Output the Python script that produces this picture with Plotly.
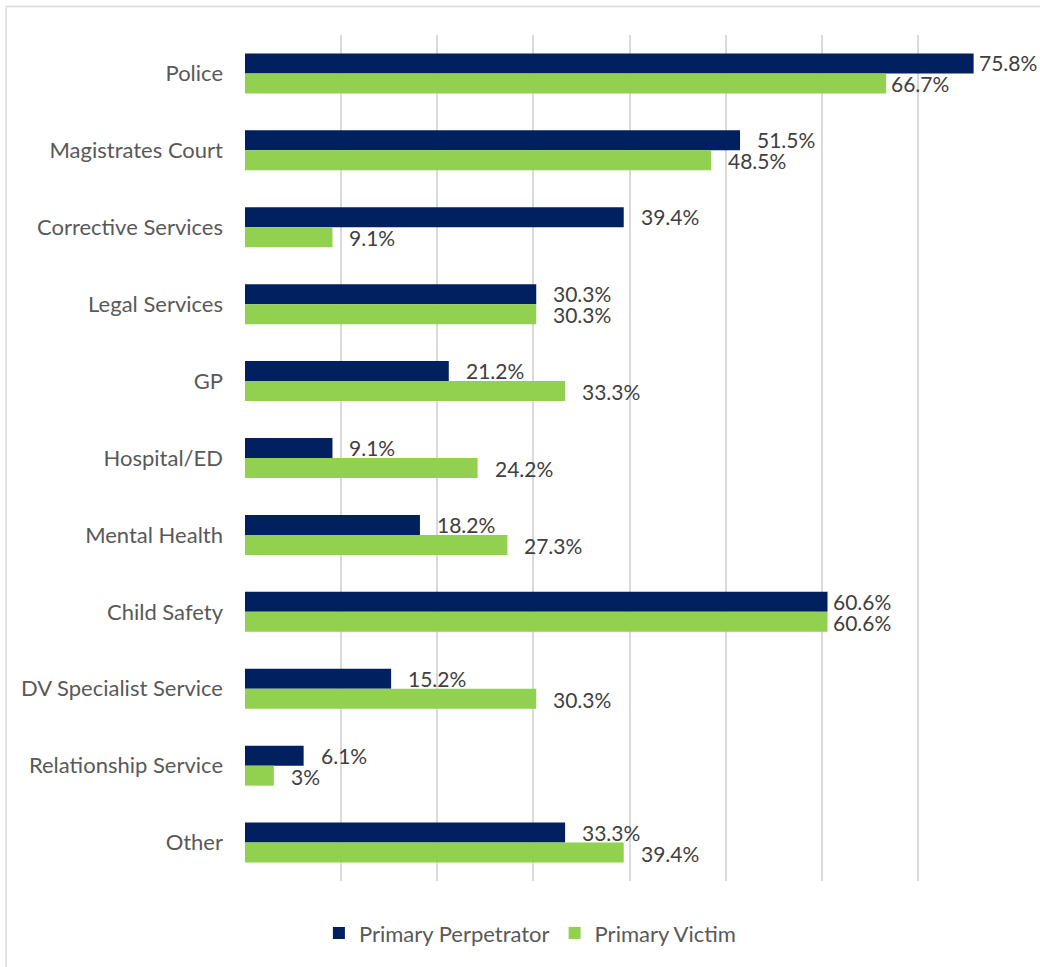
import plotly.graph_objects as go

categories = [
    "Police", "Magistrates Court", "Corrective Services", "Legal Services", "GP",
    "Hospital/ED", "Mental Health", "Child Safety", "DV Specialist Service",
    "Relationship Service", "Other",
]
perpetrator = [75.8, 51.5, 39.4, 30.3, 21.2, 9.1, 18.2, 60.6, 15.2, 6.1, 33.3]
victim = [66.7, 48.5, 9.1, 30.3, 33.3, 24.2, 27.3, 60.6, 30.3, 3.0, 39.4]
series_names = ["Primary Perpetrator", "Primary Victim"]
x_ticks = [0, 10, 20, 30, 40, 50, 60, 70, 80]

NAVY = "#002060"
GREEN = "#92D050"
FONT = "Lato"


def fmt(v):
    return f"{v:g}%"


fig = go.Figure()
for name, vals, color in [(series_names[0], perpetrator, NAVY), (series_names[1], victim, GREEN)]:
    fig.add_trace(go.Bar(
        y=categories, x=vals, name=name, orientation="h",
        marker=dict(color=color, line=dict(width=0)),
        hoverinfo="x+y+name",
    ))

# value labels placed just beyond each bar end
annotations = []
for vals, yshift in [(perpetrator, 10.5), (victim, -10.5)]:
    for cat, v in zip(categories, vals):
        annotations.append(dict(
            x=v, y=cat, xref="x", yref="y", text=fmt(v), showarrow=False,
            xanchor="left", yanchor="middle", xshift=3 if v >= 60 else 15, yshift=yshift,
            font=dict(family=FONT, size=21, color="#404040"),
        ))

fig.update_layout(
    width=1040, height=967,
    paper_bgcolor="white", plot_bgcolor="white",
    margin=dict(l=245, r=26, t=35, b=86),
    barmode="group", bargap=0.48, bargroupgap=0,
    font=dict(family=FONT, size=22, color="#595959"),
    annotations=annotations,
    showlegend=True,
    legend=dict(
        orientation="h", xref="container", yref="container",
        x=0.51, y=0.035, xanchor="center", yanchor="middle",
        font=dict(family=FONT, size=22, color="#595959"),
        itemsizing="constant",
    ),
    shapes=[
        # outer chart frame (left and top edges)
        dict(type="line", xref="paper", yref="paper", x0=-0.3108, x1=-0.3108, y0=1.0337, y1=-0.2,
             line=dict(color="#d9d9d9", width=1.5)),
        dict(type="line", xref="paper", yref="paper", x0=-0.3108, x1=1.1, y0=1.0337, y1=1.0337,
             line=dict(color="#d9d9d9", width=1.5)),
    ],
)
fig.update_xaxes(
    range=[0, 80], tickvals=x_ticks, showticklabels=False,
    showgrid=True, gridcolor="#d9d9d9", gridwidth=1.5,
    zeroline=False, showline=False, fixedrange=True,
)
fig.update_yaxes(
    autorange="reversed", showgrid=False, showline=False, zeroline=False,
    ticks="", ticklabelstandoff=21,
    tickfont=dict(family=FONT, size=22, color="#595959"),
)

fig.write_html("out.html")
